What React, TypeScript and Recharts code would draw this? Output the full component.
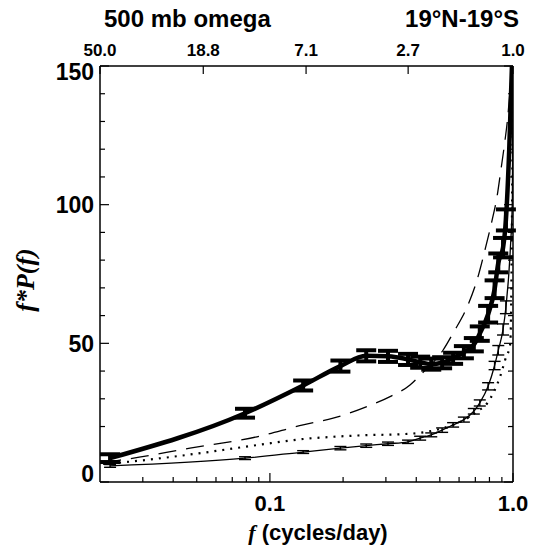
import { LineChart, Line, XAxis, YAxis, ErrorBar } from "recharts";

// frequencies (cycles/day) where the error-bar estimates sit
const barFreq = [0.022, 0.079, 0.137, 0.195, 0.249, 0.306, 0.37, 0.415, 0.461, 0.511, 0.567, 0.628, 0.69, 0.73, 0.79, 0.84, 0.87, 0.91, 0.935];
const thickMean = [8.6, 24.8, 34.8, 41.8, 45.5, 45.3, 44.2, 43.2, 42.5, 43.0, 44.6, 46.8, 49.5, 53.5, 60.5, 69.5, 79, 84.5, 94.5];
const thickErr = [1.4, 1.6, 1.8, 2, 2, 2, 2, 2, 2, 2, 2, 2.2, 2.4, 2.6, 3, 3.2, 3.4, 3.5, 3.8];
const thinMean = [5.8, 8.6, 10.8, 12.2, 13.1, 13.8, 14.5, 15.8, 17, 18.7, 20.6, 22.5, 25.5, 28.5, 34.5, 42, 47.5, 55, 63];
const thinErr = [0.5, 0.5, 0.5, 0.6, 0.6, 0.6, 0.6, 0.7, 0.7, 0.8, 0.8, 0.9, 1, 1.1, 1.3, 1.5, 1.7, 2, 2.3];

const thickTailFreq = [0.965, 0.99];
const thickTailVal = [120, 150];
const thinTailFreq = [0.975, 0.994, 1.0];
const thinTailVal = [84, 102, 150];

// red-noise style reference curves
const dashFreq = [0.0206, 0.0242, 0.0469, 0.0885, 0.137, 0.182, 0.251, 0.312, 0.377, 0.415, 0.516, 0.567, 0.648, 0.711, 0.767, 0.821, 0.86, 0.89, 0.92, 0.95, 0.975, 0.99];
const dashVal = [7.2, 7.9, 12.2, 16.3, 20.6, 23, 27.2, 30.8, 35, 38.5, 47.6, 53.7, 63.2, 72.8, 83.7, 94.5, 103, 112, 121, 131, 142.5, 150];
const dotFreq = [0.0206, 0.0242, 0.0469, 0.0885, 0.137, 0.182, 0.251, 0.343, 0.444, 0.5, 0.567, 0.648, 0.711, 0.783, 0.829, 0.885, 0.928, 0.975, 1.0];
const dotVal = [6.5, 7, 9.9, 13.3, 15.5, 16.3, 16.9, 17.2, 18.1, 19.1, 20.6, 23, 25.4, 28.4, 32, 38, 44, 50, 150];

// axis ticks
const topPeriods = ["50.0", "18.8", "7.1", "2.7", "1.0"];
const bottomMajor = [0.1, 1.0];
const bottomTicks = [0.03, 0.04, 0.05, 0.06, 0.07, 0.08, 0.09, 0.1, 0.2, 0.3, 0.4, 0.5, 0.6, 0.7, 0.8, 0.9, 1.0];
const yTicks = [0, 10, 20, 30, 40, 50, 60, 70, 80, 90, 100, 110, 120, 130, 140, 150];

const thickBars = barFreq.map((f, i) => ({ f, v: thickMean[i], err: thickErr[i] }));
const thinBars = barFreq.map((f, i) => ({ f, v: thinMean[i], err: thinErr[i] }));
const thickCurve = [...thickBars, ...thickTailFreq.map((f, i) => ({ f, v: thickTailVal[i] }))];
const thinCurve = [...thinBars, ...thinTailFreq.map((f, i) => ({ f, v: thinTailVal[i] }))];
const dashCurve = dashFreq.map((f, i) => ({ f, v: dashVal[i] }));
const dotCurve = dotFreq.map((f, i) => ({ f, v: dotVal[i] }));
const topTicks = topPeriods.map((p) => 1 / parseFloat(p));

const W = 537;
const H = 545;
const PL = 100;
const PR = 513;
const PT = 66;
const PB = 482;
const SANS = "'Liberation Sans', Arial, Helvetica, sans-serif";
const SERIF = "'Liberation Serif', 'Times New Roman', serif";

const LeftTick = (props: any) => {
  const { y, payload } = props;
  const v = payload.value;
  const major = v % 50 === 0;
  const shift = v === 0 ? -8 : v === 150 ? 6 : 0;
  return (
    <g>
      <line x1={PL} x2={PL + (major ? 9 : 5)} y1={y} y2={y} stroke="#000" strokeWidth={1.2} />
      {major && (
        <text x={PL - 6} y={y + shift} dy="0.36em" textAnchor="end" fontSize={23} fontWeight="bold" fontFamily={SANS} fill="#000">
          {v}
        </text>
      )}
    </g>
  );
};

const RightTick = (props: any) => {
  const { y, payload } = props;
  const major = payload.value % 50 === 0;
  return <line x1={PR} x2={PR - (major ? 9 : 5)} y1={y} y2={y} stroke="#000" strokeWidth={1.2} />;
};

const BottomTick = (props: any) => {
  const { x, payload } = props;
  const v = payload.value;
  const major = bottomMajor.some((m) => Math.abs(m - v) < 1e-6);
  return (
    <g>
      <line x1={x} x2={x} y1={PB} y2={PB - (major ? 9 : 5)} stroke="#000" strokeWidth={1.2} />
      {major && (
        <text x={x} y={PB + 29} textAnchor="middle" fontSize={22} fontWeight="bold" fontFamily={SANS} fill="#000">
          {v.toFixed(1)}
        </text>
      )}
    </g>
  );
};

const TopTick = (props: any) => {
  const { x, payload } = props;
  const i = topTicks.findIndex((t) => Math.abs(t - payload.value) < 1e-6);
  return (
    <g>
      <line x1={x} x2={x} y1={PT} y2={PT + 8} stroke="#000" strokeWidth={1.2} />
      <text x={x} y={PT - 10} textAnchor="middle" fontSize={17} fontWeight="bold" fontFamily={SANS} fill="#000">
        {i >= 0 ? topPeriods[i] : ""}
      </text>
    </g>
  );
};

const App = () => {
  return (
    <div style={{ position: "absolute", left: 0, top: 0, width: W, height: H, background: "#fff" }}>
      <LineChart width={W} height={H} margin={{ top: 0, right: 0, bottom: 0, left: 0 }}>
        <XAxis
          xAxisId="b"
          dataKey="f"
          type="number"
          scale="log"
          domain={[0.02, 1]}
          allowDataOverflow
          ticks={bottomTicks}
          interval={0}
          height={H - PB}
          tickLine={false}
          axisLine={{ stroke: "#000", strokeWidth: 1.5 }}
          tick={<BottomTick />}
        />
        <XAxis
          xAxisId="t"
          orientation="top"
          dataKey="f"
          type="number"
          scale="log"
          domain={[0.02, 1]}
          allowDataOverflow
          ticks={topTicks}
          interval={0}
          height={PT}
          tickLine={false}
          axisLine={{ stroke: "#000", strokeWidth: 1.5 }}
          tick={<TopTick />}
        />
        <YAxis
          yAxisId="l"
          type="number"
          domain={[0, 150]}
          allowDataOverflow
          ticks={yTicks}
          interval={0}
          width={PL}
          tickLine={false}
          axisLine={{ stroke: "#000", strokeWidth: 1.5 }}
          tick={<LeftTick />}
        />
        <YAxis
          yAxisId="r"
          orientation="right"
          type="number"
          domain={[0, 150]}
          allowDataOverflow
          ticks={yTicks}
          interval={0}
          width={W - PR}
          tickLine={false}
          axisLine={{ stroke: "#000", strokeWidth: 1.5 }}
          tick={<RightTick />}
        />

        <Line xAxisId="b" yAxisId="l" data={dashCurve} dataKey="v" type="monotone" stroke="#000" strokeWidth={1.3} strokeDasharray="18 10" dot={false} isAnimationActive={false} />
        <Line xAxisId="b" yAxisId="l" data={dotCurve} dataKey="v" type="monotone" stroke="#000" strokeWidth={2.2} strokeDasharray="2 6" dot={false} isAnimationActive={false} />
        <Line xAxisId="b" yAxisId="l" data={thinCurve} dataKey="v" type="monotone" stroke="#000" strokeWidth={1.3} dot={false} isAnimationActive={false} />
        <Line xAxisId="b" yAxisId="l" data={thinBars} dataKey="v" stroke="none" dot={false} isAnimationActive={false}>
          <ErrorBar dataKey="err" width={6} strokeWidth={1.4} stroke="#000" direction="y" />
        </Line>
        <Line xAxisId="b" yAxisId="l" data={thickCurve} dataKey="v" type="monotone" stroke="#000" strokeWidth={4.5} dot={false} isAnimationActive={false} />
        <Line xAxisId="b" yAxisId="l" data={thickBars} dataKey="v" stroke="none" dot={false} isAnimationActive={false}>
          <ErrorBar dataKey="err" width={10} strokeWidth={4} stroke="#000" direction="y" />
        </Line>

        <text x={104} y={27} fontSize={24} fontWeight="bold" fontFamily={SANS} fill="#000">500 mb omega</text>
        <text x={519} y={27} textAnchor="end" fontSize={24} fontWeight="bold" fontFamily={SANS} fill="#000">19°N-19°S</text>
        <text x={318} y={540} textAnchor="middle" fontSize={22} fontWeight="bold" fill="#000">
          <tspan fontFamily={SERIF} fontStyle="italic">f</tspan>
          <tspan fontFamily={SANS}> (cycles/day)</tspan>
        </text>
        <text x={34} y={280} transform="rotate(-90 34 280)" textAnchor="middle" fontSize={26} fontWeight="bold" fontStyle="italic" fontFamily={SERIF} fill="#000">
          f*P(f)
        </text>
      </LineChart>
    </div>
  );
};

export default App;
